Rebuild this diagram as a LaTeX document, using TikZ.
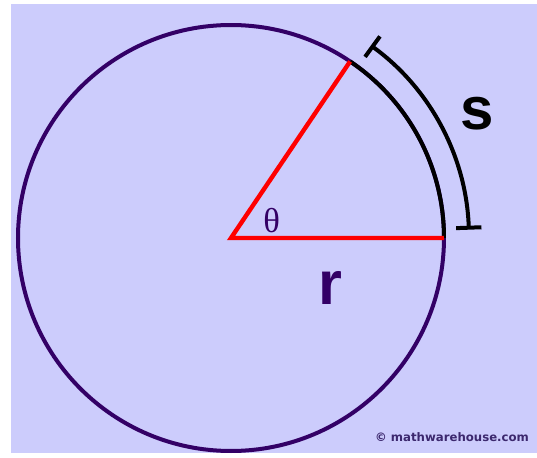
\documentclass[tikz,border=0pt]{standalone}
\usepackage{fontspec}
\setmainfont{Liberation Serif}
\setsansfont{Liberation Sans}
\newfontfamily\wmfont{DejaVu Sans}
\usepackage{tikz}
\usetikzlibrary{arrows.meta}
\definecolor{lavbg}{RGB}{204,204,252}
\definecolor{circpurple}{RGB}{51,0,102}
\definecolor{wmpurple}{RGB}{60,40,110}

\begin{document}
\begin{tikzpicture}[x=0.75pt, y=0.75pt, every node/.style={inner sep=0pt}, line width=3pt]
	\useasboundingbox (-231,-220) rectangle (306,238);
	\fill[lavbg] (-220,-215) rectangle (306,234);
	\coordinate (O) at (0,0);
	\coordinate (A) at (0:213);
	\coordinate (B) at (56:213);
	\draw[circpurple] (O) circle (213);
	\draw[black] (B) arc (56:0:213);
	\draw[red, line width=3.3pt] (A) -- (O) -- (B);
	\draw[black, {Bar[width=19pt]}-{Bar[width=19pt]}] (54:238) arc (54:2:238);
	\node[font=\sffamily\bfseries\fontsize{45}{45}\selectfont] (s) at (245.7,124.7) {s};
	\node[font=\sffamily\bfseries\fontsize{46}{46}\selectfont, text=circpurple] (r) at (99,-50) {r};
	\node[font=\fontsize{26}{26}\selectfont, text=circpurple] (theta) at (40.7,17.3) {θ};
	\node[font=\wmfont\bfseries\fontsize{8.8}{8.8}\selectfont, text=wmpurple] (wm) at (221,-199) {© mathwarehouse.com};
\end{tikzpicture}
\end{document}
